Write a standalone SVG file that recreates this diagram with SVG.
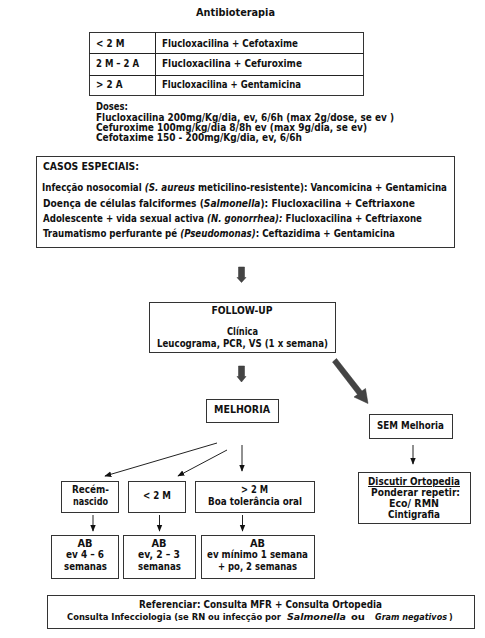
<svg xmlns="http://www.w3.org/2000/svg" width="485" height="638" viewBox="0 0 485 638">
<defs>
<style>
.t{font-family:"DejaVu Sans Condensed","DejaVu Sans",sans-serif;font-weight:bold;font-size:9.8px;fill:#111}
.v{font-family:"DejaVu Sans",Verdana,sans-serif;font-weight:bold;font-size:9.8px;fill:#111}
.c{font-family:"DejaVu Sans Condensed","DejaVu Sans",sans-serif;font-weight:bold;font-size:9px;fill:#111}
.m{text-anchor:middle}
.i{font-style:italic}
.box{fill:#fff;stroke:#333;stroke-width:1}
.ln{stroke:#222;stroke-width:1;fill:none}
.big{fill:#444;stroke:#333;stroke-width:0.5}
</style>
<marker id="ah" viewBox="0 0 10 10" refX="9" refY="5" markerWidth="7" markerHeight="7" orient="auto" markerUnits="userSpaceOnUse">
<path d="M0,1 L10,5 L0,9 z" fill="#111"/>
</marker>
</defs>
<rect width="485" height="638" fill="#fff"/>

<g id="title">
<text class="v m" x="235.5" y="15.5" textLength="79" lengthAdjust="spacingAndGlyphs">Antibioterapia</text>
</g>

<g id="table">
<rect class="box" x="89.5" y="32.5" width="274" height="63"/>
<line class="ln" x1="155.5" y1="32.5" x2="155.5" y2="95.5"/>
<line class="ln" x1="89.5" y1="53.5" x2="363.5" y2="53.5"/>
<line class="ln" x1="89.5" y1="75.5" x2="363.5" y2="75.5"/>
<text class="t" x="96" y="46.5">&lt; 2 M</text>
<text class="t" x="162" y="46.5" textLength="136" lengthAdjust="spacingAndGlyphs">Flucloxacilina + Cefotaxime</text>
<text class="t" x="96" y="66.5" textLength="43" lengthAdjust="spacingAndGlyphs">2 M – 2 A</text>
<text class="t" x="162" y="66.5" textLength="140" lengthAdjust="spacingAndGlyphs">Flucloxacilina  + Cefuroxime</text>
<text class="t" x="96" y="87.5">&gt; 2 A</text>
<text class="t" x="162" y="87.5" textLength="139" lengthAdjust="spacingAndGlyphs">Flucloxacilina + Gentamicina</text>
</g>

<g id="doses">
<text class="t" x="96" y="110" textLength="32" lengthAdjust="spacingAndGlyphs">Doses:</text>
<text class="t" x="96" y="120.5" textLength="298" lengthAdjust="spacingAndGlyphs">Flucloxacilina 200mg/Kg/dia, ev, 6/6h (max 2g/dose, se ev )</text>
<text class="t" x="96" y="130.5" textLength="271" lengthAdjust="spacingAndGlyphs">Cefuroxime 100mg/kg/dia 8/8h ev (max 9g/dia, se ev)</text>
<text class="t" x="96" y="140.5" textLength="206" lengthAdjust="spacingAndGlyphs">Cefotaxime 150 - 200mg/Kg/dia, ev, 6/6h</text>
</g>

<g id="casos">
<rect class="box" x="36.5" y="156.5" width="418" height="91"/>
<text class="t" x="43" y="169.5" textLength="96" lengthAdjust="spacingAndGlyphs">CASOS ESPECIAIS:</text>
<text class="t" x="42" y="190.5" textLength="405" lengthAdjust="spacingAndGlyphs">Infecção nosocomial <tspan class="i">(S. aureus</tspan> meticilino-resistente): Vancomicina + Gentamicina</text>
<text class="t" x="43" y="206.5" textLength="372" lengthAdjust="spacingAndGlyphs">Doença de células falciformes (<tspan class="i">Salmonella</tspan>): Flucloxacilina + Ceftriaxone</text>
<text class="t" x="43" y="222" textLength="379" lengthAdjust="spacingAndGlyphs">Adolescente + vida sexual activa <tspan class="i">(N. gonorrhea):</tspan> Flucloxacilina + Ceftriaxone</text>
<text class="t" x="43" y="236.5" textLength="352" lengthAdjust="spacingAndGlyphs">Traumatismo perfurante pé <tspan class="i">(Pseudomonas)</tspan>: Ceftazidima + Gentamicina</text>
</g>

<g id="followup">
<rect class="box" x="149.5" y="302.5" width="186" height="50"/>
<text class="v m" x="242" y="313.5" textLength="61" lengthAdjust="spacingAndGlyphs">FOLLOW-UP</text>
<text class="v m" x="242.5" y="335" textLength="31" lengthAdjust="spacingAndGlyphs">Clínica</text>
<text class="v m" x="242.5" y="346.5" textLength="171" lengthAdjust="spacingAndGlyphs">Leucograma, PCR, VS (1 x semana)</text>
</g>

<g id="melhoria">
<rect class="box" x="206.5" y="399.5" width="72" height="23"/>
<text class="v m" x="242" y="412.5" textLength="56" lengthAdjust="spacingAndGlyphs">MELHORIA</text>
</g>

<g id="semmelhoria">
<rect class="box" x="369.5" y="414.5" width="83" height="24"/>
<text class="v m" x="410.5" y="428.5" textLength="67" lengthAdjust="spacingAndGlyphs">SEM Melhoria</text>
</g>

<g id="recem">
<rect class="box" x="61.5" y="481.5" width="57" height="31"/>
<text class="v m" x="90.5" y="492.5" textLength="37" lengthAdjust="spacingAndGlyphs">Recém-</text>
<text class="v m" x="90.5" y="505" textLength="35" lengthAdjust="spacingAndGlyphs">nascido</text>
</g>

<g id="menos2m">
<rect class="box" x="128.5" y="481.5" width="57" height="31"/>
<text class="v m" x="157" y="498.5" textLength="28" lengthAdjust="spacingAndGlyphs">&lt; 2 M</text>
</g>

<g id="mais2m">
<rect class="box" x="195.5" y="481.5" width="119" height="31"/>
<text class="v m" x="254.5" y="492.5" textLength="27" lengthAdjust="spacingAndGlyphs">&gt; 2 M</text>
<text class="v m" x="255" y="505" textLength="94" lengthAdjust="spacingAndGlyphs">Boa tolerância oral</text>
</g>

<g id="ab1">
<rect class="box" x="51.5" y="535.5" width="67" height="43"/>
<text class="v m" x="85" y="546.5">AB</text>
<text class="v m" x="85" y="558" textLength="38" lengthAdjust="spacingAndGlyphs">ev 4 – 6</text>
<text class="v m" x="85.5" y="570" textLength="43" lengthAdjust="spacingAndGlyphs">semanas</text>
</g>

<g id="ab2">
<rect class="box" x="123.5" y="535.5" width="72" height="43"/>
<text class="v m" x="159" y="546.5">AB</text>
<text class="v m" x="159" y="558" textLength="42" lengthAdjust="spacingAndGlyphs">ev, 2 – 3</text>
<text class="v m" x="159.5" y="570" textLength="43" lengthAdjust="spacingAndGlyphs">semanas</text>
</g>

<g id="ab3">
<rect class="box" x="201.5" y="535.5" width="113" height="43"/>
<text class="v m" x="257.5" y="546.5">AB</text>
<text class="v m" x="257.5" y="558" textLength="101" lengthAdjust="spacingAndGlyphs">ev mínimo 1 semana</text>
<text class="v m" x="257.5" y="570" textLength="79" lengthAdjust="spacingAndGlyphs">+ po, 2 semanas</text>
</g>

<g id="discutir">
<rect class="box" x="358.5" y="472.5" width="112" height="51"/>
<text class="v m" x="414" y="485" textLength="92" lengthAdjust="spacingAndGlyphs" text-decoration="underline">Discutir Ortopedia</text>
<text class="v m" x="415.5" y="495.5" textLength="89" lengthAdjust="spacingAndGlyphs">Ponderar repetir:</text>
<text class="v m" x="414" y="506.5" textLength="50" lengthAdjust="spacingAndGlyphs">Eco/ RMN</text>
<text class="v m" x="414" y="517.5" textLength="52" lengthAdjust="spacingAndGlyphs">Cintigrafia</text>
</g>

<g id="referenciar">
<rect class="box" x="47.5" y="595.5" width="427" height="33"/>
<text class="v m" x="260.5" y="607.5" textLength="243" lengthAdjust="spacingAndGlyphs">Referenciar: Consulta MFR + Consulta Ortopedia</text>
<text class="c" x="67" y="619.5" textLength="214" lengthAdjust="spacingAndGlyphs">Consulta Infecciologia (se RN ou infecção por</text>
<text class="c i" x="287" y="619.5" textLength="59" lengthAdjust="spacingAndGlyphs">Salmonella</text>
<text class="c" x="351" y="619.5" textLength="14" lengthAdjust="spacingAndGlyphs">ou</text>
<text class="c i" x="375" y="619.5" textLength="72" lengthAdjust="spacingAndGlyphs">Gram negativos</text>
<text class="c" x="449" y="619.5">)</text>
</g>

<g id="connectors">
<path class="big" d="M238.5,267 L244.5,267 L244.5,277.5 L246,277.5 L241.5,282.5 L237,277.5 L238.5,277.5 z"/>
<path class="big" d="M238.5,366 L244.5,366 L244.5,376.5 L246,376.5 L241.5,382 L237,376.5 L238.5,376.5 z"/>
<path class="big" d="M332.5,362 L336.5,358.5 L362,391 L365.5,388.5 L368,403.5 L354,397 L357.5,394.5 z"/>
<line class="ln" x1="217" y1="443" x2="105" y2="476" marker-end="url(#ah)"/>
<line class="ln" x1="227" y1="450" x2="178" y2="476" marker-end="url(#ah)"/>
<line class="ln" x1="242" y1="445" x2="242" y2="471" marker-end="url(#ah)"/>
<line class="ln" x1="413" y1="445" x2="413" y2="464" marker-end="url(#ah)"/>
<line class="ln" x1="93" y1="515" x2="93" y2="531" marker-end="url(#ah)"/>
<line class="ln" x1="159.5" y1="515" x2="159.5" y2="531" marker-end="url(#ah)"/>
<line class="ln" x1="242.5" y1="515" x2="242.5" y2="531" marker-end="url(#ah)"/>
</g>
</svg>
